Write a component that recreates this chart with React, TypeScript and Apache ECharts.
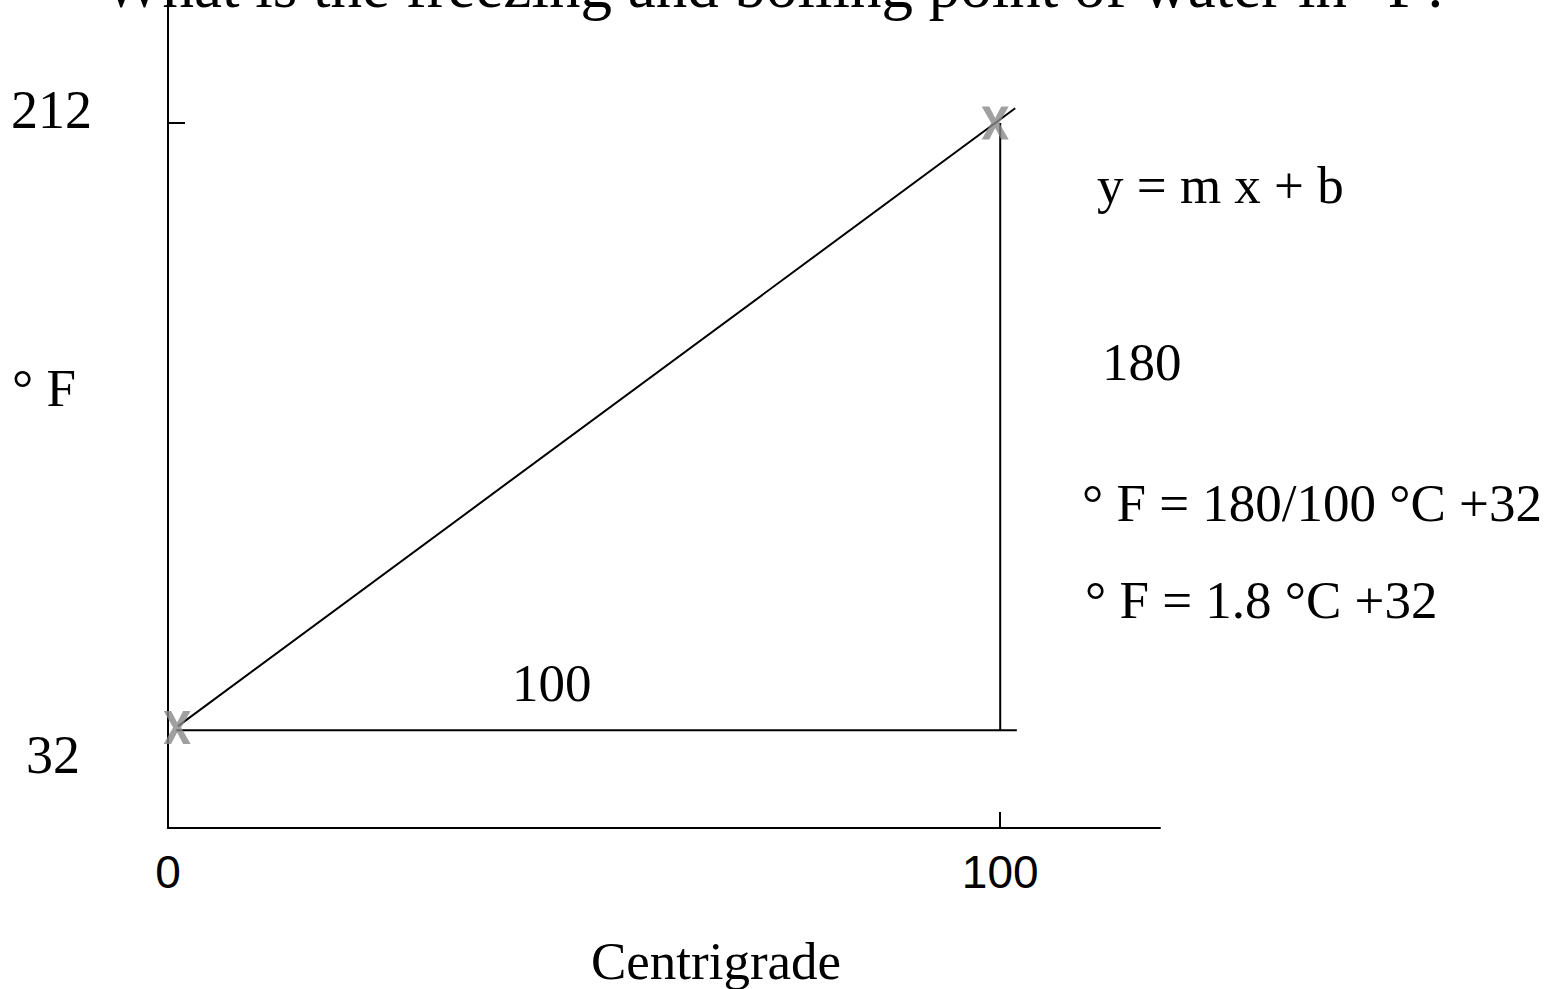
import React, { useEffect, useRef } from "react";
import * as echarts from "echarts";

const titleText = "What is the freezing and boiling point of water in °F?";
const xTickValues = [100];
const xLabelValues = [0, 100];
const yTickValues = [212];
const yLabelValues = [32, 212];
const slopeLine = [[1.2, 33.2], [101.8, 216.4]];
const runLine = [[1.0, 32], [102.0, 32]];
const riseLine = [[100, 32], [100, 212]];
const markerPoints = [[1.1, 32.8], [99.4, 212]];
const annotations = [
  { text: "° F", x: 12, y: 388 },
  { text: "100", x: 512, y: 683 },
  { text: "180", x: 1102, y: 362 },
  { text: "y = m x + b", x: 1097, y: 185 },
  { text: "° F = 180/100 °C +32", x: 1082, y: 503 },
  { text: "° F = 1.8 °C +32", x: 1085, y: 600 },
];
const xAxisName = "Centrigrade";

const SERIF = '"Liberation Serif", "Times New Roman", serif';
const SANS = '"Liberation Sans", Arial, sans-serif';
const X_PATH =
  "path://M0,0 L7.5,0 L13.5,11.5 L19.5,0 L27,0 L17.5,16.5 L27,33 L19.5,33 L13.5,21.5 L7.5,33 L0,33 L9.5,16.5 Z";

export default function App() {
  const ref = useRef<HTMLDivElement>(null);
  useEffect(() => {
    if (!ref.current) return;
    const chart = echarts.init(ref.current, undefined, { renderer: "svg" });
    const lineStyle = { color: "#000", width: 2 };
    chart.setOption({
      animation: false,
      backgroundColor: "#fff",
      grid: { left: 168, right: 406, top: 0, bottom: 161, containLabel: false },
      xAxis: {
        type: "value",
        min: 0,
        max: 119.2,
        splitLine: { show: false },
        axisLine: { show: true, lineStyle: { color: "#000", width: 2 } },
        axisTick: {
          show: true,
          inside: true,
          length: 16,
          customValues: xTickValues,
          lineStyle: { color: "#000", width: 2 },
        },
        axisLabel: {
          customValues: xLabelValues,
          margin: 21,
          color: "#000",
          fontFamily: SANS,
          fontSize: 46,
        },
      },
      yAxis: {
        type: "value",
        min: 3,
        max: 248.5,
        splitLine: { show: false },
        axisLine: { show: true, lineStyle: { color: "#000", width: 2 } },
        axisTick: {
          show: true,
          inside: true,
          length: 17,
          customValues: yTickValues,
          lineStyle: { color: "#000", width: 2 },
        },
        axisLabel: {
          customValues: yLabelValues,
          margin: 76,
          color: "#000",
          formatter: (v: number) => (v === 212 ? `{a|${v}}` : `{b|${v}}`),
          rich: {
            a: { fontFamily: SERIF, fontSize: 54, padding: [0, 0, 26, 0] },
            b: { fontFamily: SERIF, fontSize: 54, padding: [50, 12, 0, 0] },
          },
        },
      },
      series: [
        { type: "line", data: slopeLine, symbol: "none", lineStyle, z: 2 },
        { type: "line", data: runLine, symbol: "none", lineStyle, z: 2 },
        { type: "line", data: riseLine, symbol: "none", lineStyle, z: 2 },
        {
          type: "scatter",
          data: markerPoints,
          symbol: X_PATH,
          symbolSize: [27, 33],
          itemStyle: { color: "#888888" },
          z: 3,
        },
      ],
      graphic: [
        {
          type: "text",
          x: 103,
          y: -46,
          style: { text: titleText, fill: "#000", font: `63px ${SERIF}` },
        },
        {
          type: "text",
          x: 716,
          y: 961,
          style: {
            text: xAxisName,
            fill: "#000",
            font: `53px ${SERIF}`,
            textAlign: "center",
            textVerticalAlign: "middle",
          },
        },
        ...annotations.map((a) => ({
          type: "text",
          x: a.x,
          y: a.y,
          style: {
            text: a.text,
            fill: "#000",
            font: `53px ${SERIF}`,
            textAlign: "left",
            textVerticalAlign: "middle",
          },
        })),
      ],
    });
    return () => chart.dispose();
  }, []);
  return (
    <div
      ref={ref}
      style={{ position: "fixed", left: 0, top: 0, width: 1566, height: 989 }}
    />
  );
}
